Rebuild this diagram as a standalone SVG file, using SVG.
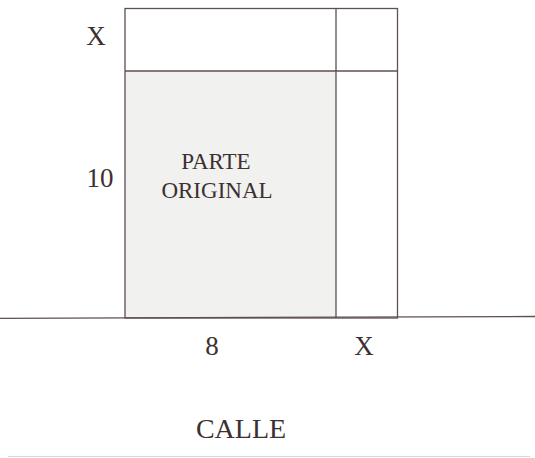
<svg xmlns="http://www.w3.org/2000/svg" width="535" height="458" viewBox="0 0 535 458">
<style>
.ln{stroke:#5e4f52;stroke-width:1.3;fill:none}
.t{font-family:"Liberation Serif","Times New Roman",serif;fill:#3d3030}
.lb{font-size:27px;text-anchor:middle}
</style>
<rect width="535" height="458" fill="#fff"/>
<g id="original">
<rect x="125" y="71" width="211" height="247" fill="#f1f1f0"/>
<text class="t" x="216" y="169" font-size="23" text-anchor="middle">PARTE</text>
<text class="t" x="217" y="198" font-size="23" text-anchor="middle">ORIGINAL</text>
</g>
<g id="connectors">
<rect class="ln" x="125" y="8.5" width="272.5" height="309.5"/>
<line class="ln" x1="125" y1="71" x2="397.5" y2="71"/>
<line class="ln" x1="336" y1="8.5" x2="336" y2="318"/>
<line class="ln" x1="0" y1="318.3" x2="535" y2="316.5"/>
<line x1="8" y1="456.5" x2="530" y2="456.5" stroke="#d8d8d8" stroke-width="1.2"/>
</g>
<g id="labels">
<text class="t lb" x="96" y="45">X</text>
<text class="t lb" x="100" y="187">10</text>
<text class="t lb" x="212" y="355">8</text>
<text class="t lb" x="364" y="355">X</text>
<text class="t" x="241" y="438" font-size="28" text-anchor="middle">CALLE</text>
</g>
</svg>
